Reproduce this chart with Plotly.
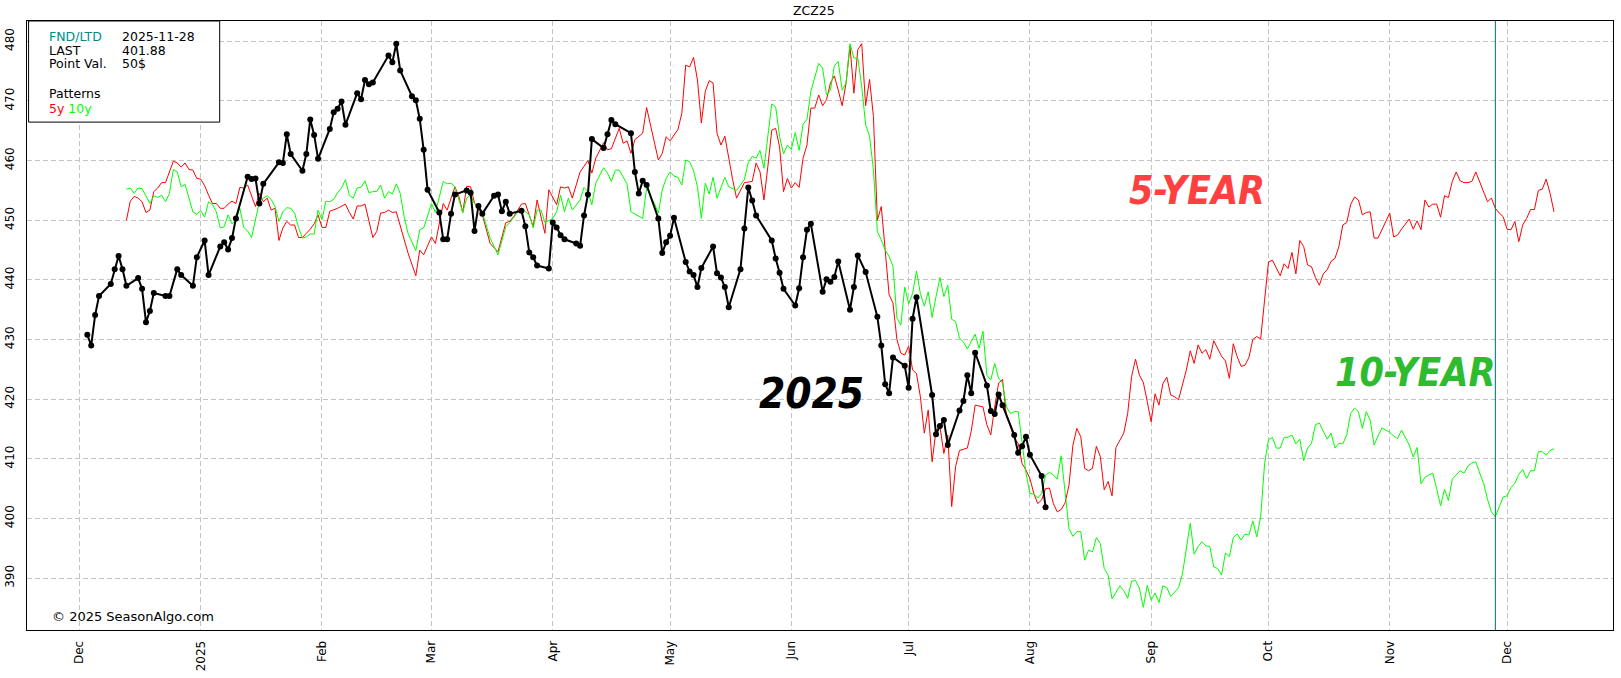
import plotly.graph_objects as go
from datetime import date, timedelta

BASE = date(2024, 12, 1)

# ---- 2025 contract (ZCZ25) daily closes ----
black_dates = [
    "2024-12-03", "2024-12-04", "2024-12-05", "2024-12-06", "2024-12-09", "2024-12-10", "2024-12-11", "2024-12-12",
    "2024-12-13", "2024-12-16", "2024-12-17", "2024-12-18", "2024-12-19", "2024-12-20", "2024-12-23", "2024-12-24",
    "2024-12-26", "2024-12-27", "2024-12-30", "2024-12-31",
    "2025-01-02", "2025-01-03", "2025-01-06", "2025-01-07", "2025-01-08", "2025-01-09", "2025-01-10", "2025-01-13",
    "2025-01-14", "2025-01-15", "2025-01-16", "2025-01-17", "2025-01-21", "2025-01-22", "2025-01-23", "2025-01-24",
    "2025-01-27", "2025-01-28", "2025-01-29", "2025-01-30", "2025-01-31",
    "2025-02-03", "2025-02-04", "2025-02-05", "2025-02-06", "2025-02-07", "2025-02-10", "2025-02-11", "2025-02-12",
    "2025-02-13", "2025-02-14", "2025-02-18", "2025-02-19", "2025-02-20", "2025-02-21", "2025-02-24", "2025-02-25",
    "2025-02-26", "2025-02-27", "2025-02-28",
    "2025-03-03", "2025-03-04", "2025-03-05", "2025-03-06", "2025-03-07", "2025-03-10", "2025-03-11", "2025-03-12",
    "2025-03-13", "2025-03-14", "2025-03-17", "2025-03-18", "2025-03-19", "2025-03-20", "2025-03-21", "2025-03-24",
    "2025-03-25", "2025-03-26", "2025-03-27", "2025-03-28", "2025-03-31",
    "2025-04-01", "2025-04-02", "2025-04-03", "2025-04-04", "2025-04-07", "2025-04-08", "2025-04-09", "2025-04-10",
    "2025-04-11", "2025-04-14", "2025-04-15", "2025-04-16", "2025-04-17", "2025-04-21", "2025-04-22", "2025-04-23",
    "2025-04-24", "2025-04-25", "2025-04-28", "2025-04-29", "2025-04-30",
    "2025-05-01", "2025-05-02", "2025-05-05", "2025-05-06", "2025-05-07", "2025-05-08", "2025-05-09", "2025-05-12",
    "2025-05-13", "2025-05-14", "2025-05-15", "2025-05-16", "2025-05-19", "2025-05-20", "2025-05-21", "2025-05-22",
    "2025-05-23", "2025-05-27", "2025-05-28", "2025-05-29", "2025-05-30",
    "2025-06-02", "2025-06-03", "2025-06-04", "2025-06-05", "2025-06-06", "2025-06-09", "2025-06-10", "2025-06-11",
    "2025-06-12", "2025-06-13", "2025-06-16", "2025-06-17", "2025-06-18", "2025-06-20", "2025-06-23", "2025-06-24",
    "2025-06-25", "2025-06-26", "2025-06-27", "2025-06-30",
    "2025-07-01", "2025-07-02", "2025-07-03", "2025-07-07", "2025-07-08", "2025-07-09", "2025-07-10", "2025-07-11",
    "2025-07-14", "2025-07-15", "2025-07-16", "2025-07-17", "2025-07-18", "2025-07-21", "2025-07-22", "2025-07-23",
    "2025-07-24", "2025-07-25", "2025-07-28", "2025-07-29", "2025-07-30", "2025-07-31",
    "2025-08-01", "2025-08-04", "2025-08-05",
]
black_vals = [
    430.8, 429.0, 434.1, 437.3, 439.3, 441.8, 444.0, 441.8, 439.0, 440.3, 438.5, 432.9, 434.8, 437.8, 437.3, 437.3,
    441.8, 440.8, 439.0, 443.8,
    446.6, 440.8, 445.6, 446.3, 445.1, 447.0, 450.3, 457.3, 456.9, 457.0, 452.8, 456.1, 459.7, 459.6, 464.4, 461.1,
    458.3, 461.1, 466.9, 464.3, 460.3,
    465.3, 468.1, 468.7, 469.9, 466.0, 471.3, 470.3, 473.5, 472.8, 473.1, 477.6, 476.5, 479.6, 475.1, 470.8, 470.1,
    467.0, 461.8, 455.1,
    451.3, 446.8, 446.8, 451.1, 454.3, 455.0, 454.6, 448.2, 452.4, 451.1, 454.1, 454.3, 451.5, 453.1, 451.1, 451.6,
    449.0, 444.6, 443.8, 442.4, 441.9,
    449.6, 448.8, 447.5, 446.8, 446.1, 445.7, 450.8, 454.3, 463.6, 462.1, 464.4, 466.8, 466.1, 464.6, 458.1, 454.5,
    456.6, 455.9, 450.3, 444.5, 446.3,
    447.4, 450.4, 443.0, 441.4, 440.8, 438.8, 442.0, 445.6, 441.1, 440.4, 438.8, 435.4, 441.8, 448.6, 455.5, 453.3,
    450.8, 446.6, 443.6, 441.2, 438.5,
    435.7, 438.6, 443.8, 448.4, 449.4, 438.0, 440.1, 439.7, 440.5, 443.1, 435.0, 438.8, 444.1, 441.3, 433.8, 429.0,
    422.5, 421.0, 427.0, 425.6,
    421.9, 433.5, 437.1, 420.7, 414.1, 415.5, 416.5, 412.3, 418.1, 419.7, 424.0, 421.0, 427.8, 422.3, 418.0, 417.5,
    420.8, 419.0, 414.0, 411.0, 412.1, 413.7,
    410.7, 407.1, 401.88,
]

# ---- 5-year seasonal pattern (day index counted from 2024-12-01) ----
p5_days = [
    12, 13, 14, 15, 16, 17, 18, 19, 20, 21, 22, 23, 24, 25, 26, 27, 28, 29, 30, 31, 32, 33, 34, 35, 36, 37, 38, 39, 40,
    41, 42, 43, 44, 45, 46, 47, 48, 49, 50, 51, 52, 53, 54, 55, 56, 57, 58, 59, 60, 61, 62, 63, 64, 65, 66, 68, 69, 70,
    71, 72, 73, 75, 76, 77, 78, 79, 80, 81, 83, 84, 86, 87, 88, 90, 91, 92, 93, 94, 96, 97, 98, 99, 100, 101, 103, 105,
    107, 109, 110, 111, 113, 114, 116, 117, 119, 120, 122, 123, 124, 125, 126, 128, 130, 131, 132, 134, 135, 136, 138,
    139, 140, 141, 142, 144, 145, 148, 149, 150, 151, 153, 154, 155, 156, 157, 158, 159, 160, 161, 162, 163, 164, 165,
    166, 167, 168, 169, 170, 172, 173, 174, 175, 176, 177, 178, 179, 180, 181, 182, 183, 184, 185, 186, 187, 188, 189,
    190, 191, 192, 193, 194, 195, 196, 197, 198, 199, 200, 201, 202, 203, 204, 205, 206, 207, 208, 209, 210, 211, 212,
    213, 214, 215, 216, 217, 218, 219, 220, 221, 222, 223, 224, 225, 227, 228, 229, 231, 232, 233, 234, 235, 236, 237,
    238, 239, 240, 241, 242, 243, 244, 245, 246, 247, 248, 249, 250, 251, 252, 253, 254, 255, 256, 257, 258, 259, 260,
    261, 262, 263, 264, 265, 267, 268, 269, 270, 271, 272, 273, 274, 275, 276, 277, 278, 279, 280, 281, 282, 283, 284,
    285, 286, 287, 288, 289, 290, 291, 292, 293, 294, 295, 296, 297, 298, 299, 300, 301, 302, 303, 304, 305, 306, 307,
    308, 309, 310, 311, 312, 313, 314, 315, 316, 317, 318, 319, 320, 321, 322, 323, 324, 325, 326, 327, 328, 329, 330,
    331, 332, 333, 334, 335, 336, 337, 338, 339, 340, 341, 342, 343, 344, 345, 346, 347, 348, 349, 350, 351, 352, 353,
    354, 355, 356, 357, 358, 359, 360, 361, 362, 363, 364, 365, 366, 367, 368, 369, 370, 371, 372, 373, 374, 375, 376,
    377,
]
p5_vals = [
    450.0, 453.2, 454.0, 453.7, 453.1, 451.3, 451.7, 454.8, 455.4, 456.3, 456.3, 458.0, 459.9, 459.6, 458.9, 459.6,
    458.5, 458.4, 457.0, 456.9, 455.8, 454.2, 452.8, 452.8, 452.0, 452.0, 452.7, 453.2, 452.8,
    455.5, 455.4, 455.9, 453.9, 452.3, 454.5, 453.1, 453.7, 451.7, 452.0, 446.6, 448.7, 449.8, 449.2, 449.2, 447.1,
    447.1, 447.8, 448.5, 449.4, 450.9, 448.8, 448.8, 451.5, 451.7, 452.0, 452.7, 451.3, 450.2,
    452.4, 452.4, 452.7, 447.1, 448.1, 451.2, 451.3, 451.7, 451.3, 451.4, 447.0, 444.5, 440.7, 445.0, 444.2, 447.2,
    446.1, 449.8, 452.8, 451.7, 455.6, 454.0, 451.3, 455.7, 455.6, 452.9, 450.9, 446.1,
    444.7, 449.6, 449.8, 450.6, 452.7, 452.8, 448.9, 453.4, 447.8, 455.1, 452.6, 455.6, 455.4, 455.6, 453.7, 458.1,
    460.0, 457.9, 460.4, 463.0, 461.8, 462.0, 465.4,
    462.9, 463.3, 461.2, 463.5, 464.6, 468.9, 460.1, 461.2, 464.0, 463.3, 465.2, 467.9, 476.0, 475.7, 477.3, 473.5,
    466.3, 471.6, 473.4, 473.0, 464.6, 462.6, 464.1,
    460.1, 456.8, 453.7, 455.1, 456.3, 456.5, 459.6, 458.1, 453.4, 459.0, 465.1, 465.4, 462.3, 454.8, 457.0, 455.4,
    456.3, 455.5, 460.4, 462.6, 468.8, 468.8, 471.0,
    469.2, 470.2, 473.0, 474.2, 471.8, 469.2, 473.0, 479.2, 471.3, 478.6, 479.6, 469.2, 473.6, 467.4, 450.0, 452.3,
    445.0, 437.5, 436.1, 430.0, 427.7, 427.4, 428.9,
    424.9, 424.3, 420.4, 414.3, 418.2, 409.5, 414.8, 415.4, 410.9, 414.0, 402.0, 408.7, 411.4, 411.8, 414.6, 419.0,
    418.7, 415.7, 414.0, 418.7, 422.7, 423.3, 417.1,
    415.4, 413.4, 412.6, 409.2, 408.1, 406.7, 404.2, 402.5, 403.1, 405.0, 405.1, 402.5, 401.1, 401.5, 402.6, 405.6,
    412.3, 415.1, 413.7, 408.4, 408.0, 408.4, 412.1,
    410.4, 404.8, 406.2, 403.8, 411.9, 414.3, 417.6, 423.8, 426.7, 424.0, 422.8, 419.6, 416.2, 420.9, 419.0, 422.6,
    423.7, 420.7, 420.4, 419.9, 422.4, 424.9, 428.1,
    426.0, 429.1, 427.7, 428.3, 426.7, 429.8, 428.5, 427.2, 426.4, 423.5, 429.3, 427.1, 425.5, 425.7, 427.0, 430.0,
    430.5, 430.1, 436.6, 443.0, 443.3, 441.9, 440.7,
    442.7, 441.9, 444.6, 441.0, 446.6, 445.6, 442.5, 442.2, 440.4, 439.1, 441.0, 441.7, 443.1, 443.6, 445.6, 449.2,
    449.6, 452.6, 453.9, 453.4, 450.9, 451.3, 451.4,
    447.0, 447.0, 448.4, 449.9, 451.2, 447.2, 447.5, 448.5, 449.4, 450.2, 448.5, 449.9, 448.4, 453.4, 452.2, 452.7,
    452.7, 450.5, 454.1, 453.8, 456.5, 458.1, 456.6,
    456.3, 456.3, 456.5, 458.1, 456.5, 455.0, 453.1, 453.7, 452.0, 451.2, 450.6, 448.5, 448.4, 449.8, 446.4, 449.2,
    450.3, 451.8, 451.8, 455.0, 455.2, 456.9, 454.5,
    451.4,
]

# ---- 10-year seasonal pattern (day index counted from 2024-12-01) ----
p10_days = [
    12, 13, 14, 15, 16, 17, 18, 19, 20, 21, 22, 23, 24, 25, 26, 27, 28, 29, 30, 31, 32, 33, 34, 35, 36, 37, 38, 39, 40,
    41, 42, 43, 44, 45, 46, 47, 48, 49, 50, 51, 52, 53, 54, 55, 56, 57, 58, 59, 60, 61, 62, 63, 64, 65, 66, 67, 68, 69,
    70, 71, 72, 73, 74, 75, 76, 77, 78, 79, 80, 81, 82, 83, 84, 86, 87, 88, 90, 91, 93, 94, 95, 96, 98, 99, 100, 101,
    103, 105, 107, 109, 110, 112, 113, 115, 116, 117, 118, 119, 121, 122, 123, 124, 125, 126, 128, 129, 130, 131, 132,
    134, 135, 136, 137, 138, 140, 141, 144, 145, 147, 148, 149, 150, 151, 152, 153, 154, 155, 156, 157, 158, 159, 160,
    161, 162, 163, 165, 166, 168, 170, 171, 172, 173, 174, 175, 177, 178, 179, 180, 181, 182, 183, 184, 185, 186, 187,
    189, 190, 191, 192, 193, 194, 195, 196, 197, 198, 199, 200, 201, 202, 203, 204, 205, 206, 207, 208, 209, 210, 211,
    212, 213, 214, 215, 216, 217, 218, 219, 220, 221, 222, 223, 224, 225, 226, 227, 228, 229, 230, 231, 232, 233, 234,
    235, 236, 237, 238, 239, 240, 241, 242, 243, 244, 245, 246, 247, 248, 249, 250, 251, 252, 253, 254, 255, 256, 257,
    258, 259, 260, 261, 262, 263, 264, 265, 266, 267, 268, 269, 270, 271, 272, 273, 274, 275, 276, 277, 278, 279, 280,
    281, 282, 283, 284, 285, 286, 287, 288, 289, 290, 291, 292, 293, 294, 295, 296, 297, 298, 299, 300, 301, 302, 303,
    304, 305, 306, 307, 308, 309, 310, 311, 312, 313, 314, 315, 316, 317, 318, 319, 320, 321, 322, 323, 324, 325, 326,
    327, 328, 329, 330, 331, 332, 333, 334, 335, 336, 337, 338, 339, 340, 341, 342, 343, 344, 345, 346, 347, 348, 349,
    350, 351, 352, 353, 354, 355, 356, 357, 358, 359, 360, 361, 362, 363, 364, 365, 366, 367, 368, 369, 370, 371, 372,
    373, 374, 375, 376, 377,
]
p10_vals = [
    455.2, 455.4, 454.5, 455.4, 455.3, 454.0, 452.8, 454.1, 453.8, 454.2, 453.1, 454.5, 458.5, 458.1, 455.6, 456.0,
    453.7, 451.4, 451.0, 451.6, 450.5, 453.1, 452.6, 451.4, 448.7, 448.9, 450.9, 449.4, 450.0,
    452.0, 448.8, 448.2, 447.1, 450.0, 453.1, 453.7, 454.1, 453.5, 452.3, 449.8, 451.4, 452.1, 452.0, 451.2, 448.8,
    447.0, 447.2, 447.7, 447.7, 451.7, 450.1, 453.2, 453.1, 453.5, 454.6, 455.4, 456.8, 454.2,
    453.7, 455.4, 455.5, 456.6, 454.6, 454.8, 454.8, 455.9, 453.7, 454.8, 454.4, 456.1, 454.5, 450.6, 447.8, 444.9,
    448.4, 448.7, 452.8, 451.3, 456.5, 456.1, 456.2, 455.6, 451.3, 453.7, 454.2, 452.8,
    451.3, 447.0, 444.2, 448.9, 449.6, 451.3, 452.0, 450.9, 448.7, 451.7, 451.7, 449.6, 450.3, 451.4, 454.2, 451.4,
    453.7, 451.7, 453.4, 455.5, 454.8, 452.6, 456.2,
    458.8, 457.9, 456.5, 458.4, 458.4, 456.1, 451.4, 450.3, 455.4, 452.8, 451.2, 455.1, 457.0, 458.1, 457.4, 457.2,
    455.9, 460.1, 459.8, 458.3, 455.6, 450.3, 456.2,
    454.4, 457.2, 453.7, 457.2, 455.6, 455.0, 456.8, 459.7, 460.7, 460.4, 461.7, 458.7, 469.5, 469.0, 464.0, 461.1,
    462.6, 461.9, 464.7, 461.7, 466.1, 466.9, 471.6,
    476.3, 475.5, 471.0, 471.8, 475.9, 476.6, 471.8, 473.0, 479.6, 477.2, 477.2, 472.4, 466.0, 464.1, 458.4, 448.1,
    446.7, 445.0, 443.9, 442.3, 433.6, 432.4, 438.8,
    436.0, 437.7, 441.5, 437.7, 435.6, 438.0, 433.7, 437.2, 440.4, 437.2, 439.1, 433.4, 433.0, 430.2, 429.6, 428.4,
    429.6, 430.9, 428.5, 431.4, 424.0, 423.2, 426.0,
    423.5, 422.7, 418.7, 417.6, 417.9, 417.9, 413.1, 407.6, 404.2, 404.1, 403.4, 404.2, 407.3, 407.7, 407.3, 406.6,
    410.5, 404.2, 398.3, 397.0, 397.8, 397.8, 393.0,
    394.7, 394.4, 396.8, 395.8, 391.6, 390.5, 386.5, 387.5, 388.7, 387.9, 386.6, 389.5, 389.6, 388.3, 385.1, 388.8,
    386.3, 387.5, 385.9, 388.7, 388.4, 386.9, 387.7,
    388.4, 390.7, 394.7, 399.2, 394.0, 395.3, 396.1, 395.4, 395.3, 391.9, 391.6, 390.5, 394.2, 393.6, 396.8, 397.4,
    396.4, 397.4, 397.2, 399.6, 396.9, 400.3, 409.2,
    413.2, 413.6, 411.8, 411.8, 413.6, 413.6, 414.0, 412.5, 413.3, 409.7, 411.8, 412.6, 415.7, 416.0, 414.5, 413.3,
    414.3, 411.8, 412.6, 412.5, 414.0, 417.6, 418.5,
    417.9, 415.1, 417.9, 416.5, 412.3, 413.8, 415.2, 414.8, 414.5, 413.8, 413.4, 414.8, 413.6, 412.3, 410.3, 411.9,
    405.8, 406.9, 407.3, 407.6, 405.0, 402.1, 404.9,
    403.0, 406.6, 407.4, 408.0, 407.6, 408.8, 409.3, 409.5, 407.6, 405.9, 403.2, 401.1, 400.3, 402.0, 403.6, 403.8,
    405.2, 405.9, 407.4, 408.2, 406.7, 408.0, 408.0,
    411.2, 411.2, 410.6, 411.4, 411.7,
]

month_ticks = ["2024-12-01", "2025-01-01", "2025-02-01", "2025-03-01", "2025-04-01", "2025-05-01", "2025-06-01",
               "2025-07-01", "2025-08-01", "2025-09-01", "2025-10-01", "2025-11-01", "2025-12-01"]
month_labels = ["Dec", "2025", "Feb", "Mar", "Apr", "May", "Jun", "Jul", "Aug", "Sep", "Oct", "Nov", "Dec"]
price_ticks = [390, 400, 410, 420, 430, 440, 450, 460, 470, 480]

fnd_ltd = "2025-11-28"
last_price = "401.88"
point_val = "50$"


def to_dates(days):
    return [(BASE + timedelta(days=d)).isoformat() for d in days]


FONT = "DejaVu Sans"
BIG = "DejaVu Sans Condensed, sans-serif"

fig = go.Figure()
fig.add_trace(go.Scatter(x=to_dates(p5_days), y=p5_vals, mode="lines",
                         line=dict(color="#ff0000", width=1), hoverinfo="skip"))
fig.add_trace(go.Scatter(x=to_dates(p10_days), y=p10_vals, mode="lines",
                         line=dict(color="#00ff00", width=1), hoverinfo="skip"))
fig.add_trace(go.Scatter(x=black_dates, y=black_vals, mode="lines+markers",
                         line=dict(color="#000000", width=2),
                         marker=dict(color="#000000", size=6)))

# FND/LTD vertical marker
fig.add_shape(type="line", xref="x", yref="paper", x0=fnd_ltd, x1=fnd_ltd, y0=0, y1=1,
              line=dict(color="#006b6b", width=1))

# info box
fig.add_shape(type="rect", xref="paper", yref="paper", x0=0.001, x1=0.1215, y0=0.834, y1=1.0,
              line=dict(color="#000000", width=1), fillcolor="white", layer="above")

info_rows = [
    ("FND/LTD", fnd_ltd, 0.9749, "#008b8b"),
    ("LAST", last_price, 0.9512, "#000000"),
    ("Point Val.", point_val, 0.9294, "#000000"),
]
for lab, val, yy, col in info_rows:
    fig.add_annotation(xref="paper", yref="paper", x=0.0128, y=yy, text=lab, showarrow=False,
                       xanchor="left", yanchor="middle", font=dict(family=FONT, size=12.5, color=col))
    fig.add_annotation(xref="paper", yref="paper", x=0.0585, y=yy, text=val, showarrow=False,
                       xanchor="left", yanchor="middle", font=dict(family=FONT, size=12.5, color="#000000"))
fig.add_annotation(xref="paper", yref="paper", x=0.0128, y=0.8813, text="Patterns", showarrow=False,
                   xanchor="left", yanchor="middle", font=dict(family=FONT, size=12.5, color="#000000"))
fig.add_annotation(xref="paper", yref="paper", x=0.0128, y=0.8571,
                   text="<span style='color:#ff0000'>5y</span> <span style='color:#00ff00'>10y</span>",
                   showarrow=False, xanchor="left", yanchor="middle", font=dict(family=FONT, size=12.5))

# copyright
fig.add_annotation(xref="paper", yref="paper", x=0.0145, y=0.0222, text="© 2025 SeasonAlgo.com",
                   showarrow=False, xanchor="left", yanchor="middle",
                   font=dict(family=FONT, size=13, color="#000000"))

# title
fig.add_annotation(xref="paper", yref="paper", x=0.4965, y=1.018, text="ZCZ25", showarrow=False,
                   xanchor="center", yanchor="middle", font=dict(family=FONT, size=12.5, color="#000000"))

# big labels
fig.add_annotation(xref="x", yref="y", x="2025-06-06 05:00", y=421.0, text="2025", showarrow=False,
                   xanchor="center", yanchor="middle",
                   font=dict(family=BIG, size=42, color="#000000", weight="bold", style="italic"))
fig.add_annotation(xref="x", yref="y", x="2025-09-12 16:00", y=455.0, text="5-YEAR", showarrow=False,
                   xanchor="center", yanchor="middle",
                   font=dict(family=BIG, size=39, color="#ff4040", weight="bold", style="italic"))
fig.add_annotation(xref="x", yref="y", x="2025-11-07 12:00", y=424.4, text="10-YEAR", showarrow=False,
                   xanchor="center", yanchor="middle",
                   font=dict(family=BIG, size=39, color="#2fbb2f", weight="bold", style="italic"))

fig.update_layout(
    width=1621, height=678,
    margin=dict(l=27, r=8, t=21, b=48),
    paper_bgcolor="white", plot_bgcolor="white",
    showlegend=False,
    font=dict(family=FONT, size=12, color="#000000"),
)
fig.update_xaxes(
    type="date", range=["2024-11-17 14:00", "2025-12-28 02:00"],
    tickmode="array", tickvals=month_ticks, ticktext=month_labels, tickangle=-90,
    tickfont=dict(family=FONT, size=12, color="#000000"),
    showgrid=True, gridcolor="#c4c4c4", gridwidth=1, griddash="5px,3px",
    showline=True, linecolor="#000000", linewidth=1, mirror=True,
    ticks="", ticklabelstandoff=5, zeroline=False, automargin=False,
)
fig.update_yaxes(
    range=[381.3, 483.4],
    tickmode="array", tickvals=price_ticks, tickangle=-90,
    tickfont=dict(family=FONT, size=12, color="#000000"),
    showgrid=True, gridcolor="#c4c4c4", gridwidth=1, griddash="5px,3px",
    showline=True, linecolor="#000000", linewidth=1, mirror=True,
    ticks="", ticklabelstandoff=7, zeroline=False, automargin=False,
)

fig.write_html("out.html", config={"displayModeBar": False},
               post_script="document.body.style.margin='0';document.body.style.padding='0';")
